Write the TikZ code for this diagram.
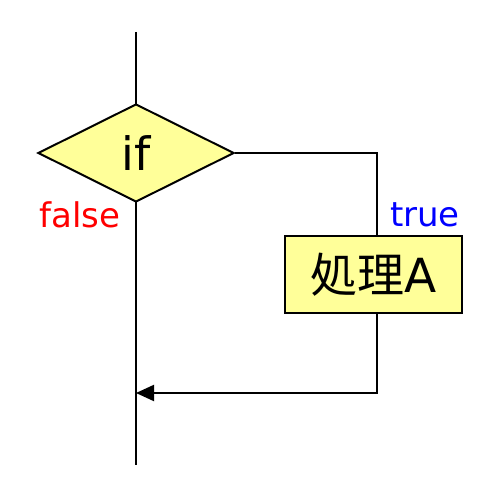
\documentclass[tikz,border=0pt]{standalone}
\usepackage{fontspec}
\setmainfont{DejaVu Sans}
\newfontfamily\cjk{Noto Sans CJK JP}
\usetikzlibrary{shapes.geometric,arrows.meta}
\definecolor{boxfill}{HTML}{FFFF99}
\tikzset{
  flow/.style={line width=2pt,draw=black},
  decision/.style={flow,diamond,fill=boxfill,minimum width=196pt,minimum height=98pt,inner sep=0pt,aspect=2},
  process/.style={flow,rectangle,fill=boxfill,minimum width=177pt,minimum height=77pt,inner sep=0pt},
  lbl/.style={inner sep=0pt,font=\fontsize{34}{38}\selectfont},
}
\begin{document}
\begin{tikzpicture}[x=1pt,y=1pt]
\useasboundingbox (0,0) rectangle (500,500);
\coordinate (top) at (136,468);
\coordinate (bot) at (136,35);
\coordinate (join) at (136,107);
\coordinate (rt) at (377,347);
\coordinate (rb) at (377,107);
\draw[flow] (top) -- (bot);
\node[decision,font=\fontsize{46}{50}\selectfont] (if) at (136,347) {if};
\node[process,font=\fontsize{47}{50}\selectfont] (proc) at (373.5,225.5) {{\cjk 処理}A};
\draw[flow] (if.east) -- (rt) -- (proc.north -| rt);
\draw[flow,-{Triangle[length=18pt,width=16pt]}] (proc.south -| rb) -- (rb) -- (join);
\node[lbl,text=red] (f) at (80,285) {false};
\node[lbl,text=blue] (t) at (425,285) {true};
\end{tikzpicture}
\end{document}
